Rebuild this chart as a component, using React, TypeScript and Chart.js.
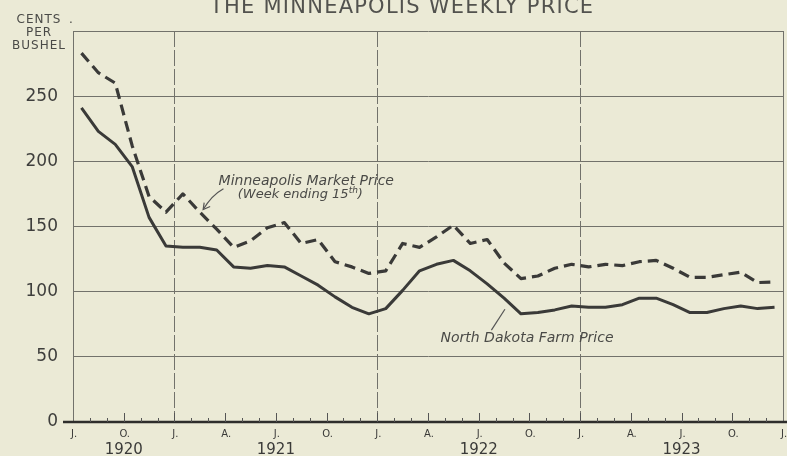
import React, { useEffect, useRef } from "react";
import { Chart, registerables } from "chart.js";

Chart.register(...registerables);

// ---- data (mid-month values, cents per bushel) ----
const months = [
  "Jul 1920", "Aug 1920", "Sep 1920", "Oct 1920", "Nov 1920", "Dec 1920",
  "Jan 1921", "Feb 1921", "Mar 1921", "Apr 1921", "May 1921", "Jun 1921",
  "Jul 1921", "Aug 1921", "Sep 1921", "Oct 1921", "Nov 1921", "Dec 1921",
  "Jan 1922", "Feb 1922", "Mar 1922", "Apr 1922", "May 1922", "Jun 1922",
  "Jul 1922", "Aug 1922", "Sep 1922", "Oct 1922", "Nov 1922", "Dec 1922",
  "Jan 1923", "Feb 1923", "Mar 1923", "Apr 1923", "May 1923", "Jun 1923",
  "Jul 1923", "Aug 1923", "Sep 1923", "Oct 1923", "Nov 1923", "Dec 1923",
];

const minneapolisPrice = [
  283, 268, 260, 212, 173, 161,
  175, 161, 148, 134, 139, 149, 153, 137, 140, 123, 119, 114,
  116, 137, 134, 142, 151, 137, 140, 122, 110, 112, 118, 121,
  119, 121, 120, 123, 124, 118, 111, 111, 113, 115, 107, 107.5,
];

const northDakotaPrice = [
  241, 223, 213, 196, 157, 135,
  134, 134, 132, 119, 118, 120, 119, 112, 105, 96, 88, 83,
  87, 101, 116, 121, 124, 116, 106, 95, 83, 84, 86, 89,
  88, 88, 90, 95, 95, 90, 84, 84, 87, 89, 87, 88,
];

const yMax = 300;
const yStep = 50;

// quarter labels at month boundaries 0,3,6,...,42 (Jul 1920 .. Jan 1924)
const quarterLabels = ["J.", "O.", "J.", "A.", "J.", "O.", "J.", "A.", "J.", "O.", "J.", "A.", "J.", "O.", "J."];
const yearLabels = ["1920", "1921", "1922", "1923"];
const yearLabelAt = [3, 12, 24, 36]; // month boundary index under which the year is written
const yearStartAt = [6, 18, 30]; // January boundaries (vertical rules)

const titleText = "THE MINNEAPOLIS WEEKLY PRICE";
const yUnitLines = ["CENTS", "PER", "BUSHEL"];
const minneapolisLabel = "Minneapolis Market Price";
const minneapolisNote = "(Week ending 15";
const northDakotaLabel = "North Dakota Farm Price";

const PAPER = "rgb(235,234,214)";
const INK = "#3a3a38";
const TEXT = "#4a4a47";
const GRID = "#72726b";
const FONT = "'DejaVu Sans', sans-serif";

const decorPlugin = {
  id: "decor",
  beforeDraw(chart: any) {
    const { ctx, width, height } = chart;
    ctx.save();
    ctx.fillStyle = PAPER;
    ctx.fillRect(0, 0, width, height);
    ctx.restore();
  },
  beforeDatasetsDraw(chart: any) {
    const { ctx, chartArea } = chart;
    const { left, right, top, bottom } = chartArea;
    const mw = (right - left) / months.length;
    ctx.save();
    ctx.strokeStyle = GRID;
    ctx.lineWidth = 1;
    ctx.setLineDash([16, 3]);
    for (const k of yearStartAt) {
      const x = Math.round(left + k * mw) + 0.5;
      ctx.beginPath();
      ctx.moveTo(x, top);
      ctx.lineTo(x, bottom);
      ctx.stroke();
    }
    ctx.setLineDash([]);
    const xr = Math.round(right) + 0.5;
    ctx.beginPath();
    ctx.moveTo(xr, top);
    ctx.lineTo(xr, bottom);
    ctx.stroke();
    ctx.restore();
  },
  afterDraw(chart: any) {
    const { ctx, chartArea, scales } = chart;
    const { left, right, bottom } = chartArea;
    const y = scales.y;
    const mw = (right - left) / months.length;
    const xAt = (m: number) => left + m * mw;
    const yAt = (v: number) => y.getPixelForValue(v);

    ctx.save();
    // base axis
    ctx.strokeStyle = "#2e2e2c";
    ctx.lineWidth = 2.5;
    ctx.beginPath();
    ctx.moveTo(left - 10, bottom);
    ctx.lineTo(chart.width, bottom);
    ctx.stroke();

    // month ticks
    ctx.lineWidth = 1;
    ctx.strokeStyle = "#555";
    for (let k = 1; k < months.length; k++) {
      const x = Math.round(xAt(k)) + 0.5;
      const h = k % 3 === 0 ? 9 : 4;
      ctx.beginPath();
      ctx.moveTo(x, bottom);
      ctx.lineTo(x, bottom - h);
      ctx.stroke();
    }

    // quarter labels
    ctx.fillStyle = INK;
    ctx.textAlign = "center";
    ctx.textBaseline = "alphabetic";
    ctx.font = `10px ${FONT}`;
    quarterLabels.forEach((t, i) => {
      ctx.fillText(t, xAt(i * 3) + 1, bottom + 15);
    });
    ctx.font = `15px ${FONT}`;
    yearLabels.forEach((t, i) => {
      ctx.fillText(t, xAt(yearLabelAt[i]), bottom + 32);
    });

    // unit label
    ctx.font = `12px ${FONT}`;
    ctx.fillStyle = TEXT;
    (ctx as any).letterSpacing = "1px";
    yUnitLines.forEach((t, i) => {
      ctx.fillText(t, 39, 23 + i * 13);
    });
    (ctx as any).letterSpacing = "0px";
    ctx.fillText(".", 71, 23);

    // title (cropped at the top)
    ctx.font = `21px ${FONT}`;
    ctx.fillStyle = "#52524e";
    const w0 = ctx.measureText(titleText).width;
    const spacing = Math.max(0, (383 - w0) / (titleText.length - 1));
    (ctx as any).letterSpacing = `${spacing.toFixed(2)}px`;
    ctx.textAlign = "left";
    ctx.fillText(titleText, 210, 13);
    (ctx as any).letterSpacing = "0px";

    // Minneapolis annotation
    ctx.fillStyle = TEXT;
    ctx.font = `italic 14px ${FONT}`;
    ctx.textAlign = "center";
    ctx.fillText(minneapolisLabel, xAt(13.8), yAt(181.5));
    ctx.textAlign = "left";
    ctx.font = `italic 13px ${FONT}`;
    const noteW = ctx.measureText(minneapolisNote).width;
    ctx.font = `italic 9px ${FONT}`;
    const supW = ctx.measureText("th").width;
    ctx.font = `italic 13px ${FONT}`;
    const closeW = ctx.measureText(")").width;
    const totalW = noteW + supW + closeW;
    const nx = xAt(13.45) - totalW / 2;
    const ny = yAt(172);
    ctx.fillText(minneapolisNote, nx, ny);
    ctx.font = `italic 9px ${FONT}`;
    ctx.fillText("th", nx + noteW, ny - 5);
    ctx.font = `italic 13px ${FONT}`;
    ctx.fillText(")", nx + noteW + supW, ny);

    // arrow to dashed line
    ctx.strokeStyle = "#555";
    ctx.lineWidth = 1.2;
    const ax0 = xAt(8.9), ay0 = yAt(179);
    const ax1 = xAt(7.7), ay1 = yAt(163);
    ctx.beginPath();
    ctx.moveTo(ax0, ay0);
    ctx.quadraticCurveTo(xAt(8.2), yAt(174), ax1, ay1);
    ctx.stroke();
    ctx.beginPath();
    ctx.moveTo(ax1 + 1, ay1 - 7);
    ctx.lineTo(ax1, ay1);
    ctx.lineTo(ax1 + 7, ay1 - 3);
    ctx.stroke();

    // North Dakota annotation
    ctx.font = `italic 14px ${FONT}`;
    ctx.textAlign = "left";
    ctx.fillText(northDakotaLabel, xAt(21.74), yAt(61.5));
    ctx.beginPath();
    ctx.moveTo(xAt(25.55), yAt(86.5));
    ctx.lineTo(xAt(24.75), yAt(70.5));
    ctx.stroke();

    ctx.restore();
  },
};

export default function App() {
  const canvasRef = useRef<HTMLCanvasElement | null>(null);

  useEffect(() => {
    document.body.style.margin = "0";
    document.body.style.background = PAPER;
    const canvas = canvasRef.current;
    if (!canvas) return;
    const chart = new Chart(canvas, {
      type: "line",
      data: {
        labels: months,
        datasets: [
          {
            label: minneapolisLabel,
            data: minneapolisPrice,
            borderColor: INK,
            borderWidth: 3.2,
            borderDash: [11, 6],
            pointRadius: 0,
            tension: 0,
            fill: false,
            borderJoinStyle: "round",
          },
          {
            label: northDakotaLabel,
            data: northDakotaPrice,
            borderColor: INK,
            borderWidth: 3,
            pointRadius: 0,
            tension: 0,
            fill: false,
            borderJoinStyle: "round",
          },
        ],
      },
      options: {
        responsive: false,
        maintainAspectRatio: false,
        animation: false,
        layout: { padding: { top: 31, right: 4, left: 0, bottom: 0 } },
        plugins: {
          legend: { display: false },
          tooltip: { enabled: false },
          title: { display: false },
        },
        scales: {
          x: {
            type: "category",
            offset: true,
            grid: { display: false },
            border: { display: false },
            ticks: { display: false },
            afterFit: (s: any) => {
              s.height = 34;
            },
          },
          y: {
            min: 0,
            max: yMax,
            ticks: {
              stepSize: yStep,
              padding: 15,
              color: "#3e3e3c",
              font: { family: "'DejaVu Sans', sans-serif", size: 17 },
              callback: (v: any) => (Number(v) === yMax ? "" : String(v)),
            },
            grid: { color: GRID, lineWidth: 1, drawTicks: false },
            border: { display: true, color: GRID, width: 1 },
            afterFit: (s: any) => {
              s.width = 73;
            },
          },
        },
      },
      plugins: [decorPlugin],
    } as any);
    return () => chart.destroy();
  }, []);

  return (
    <div style={{ width: 787, height: 456, background: PAPER }}>
      <canvas ref={canvasRef} width={787} height={456} style={{ display: "block" }} />
    </div>
  );
}
